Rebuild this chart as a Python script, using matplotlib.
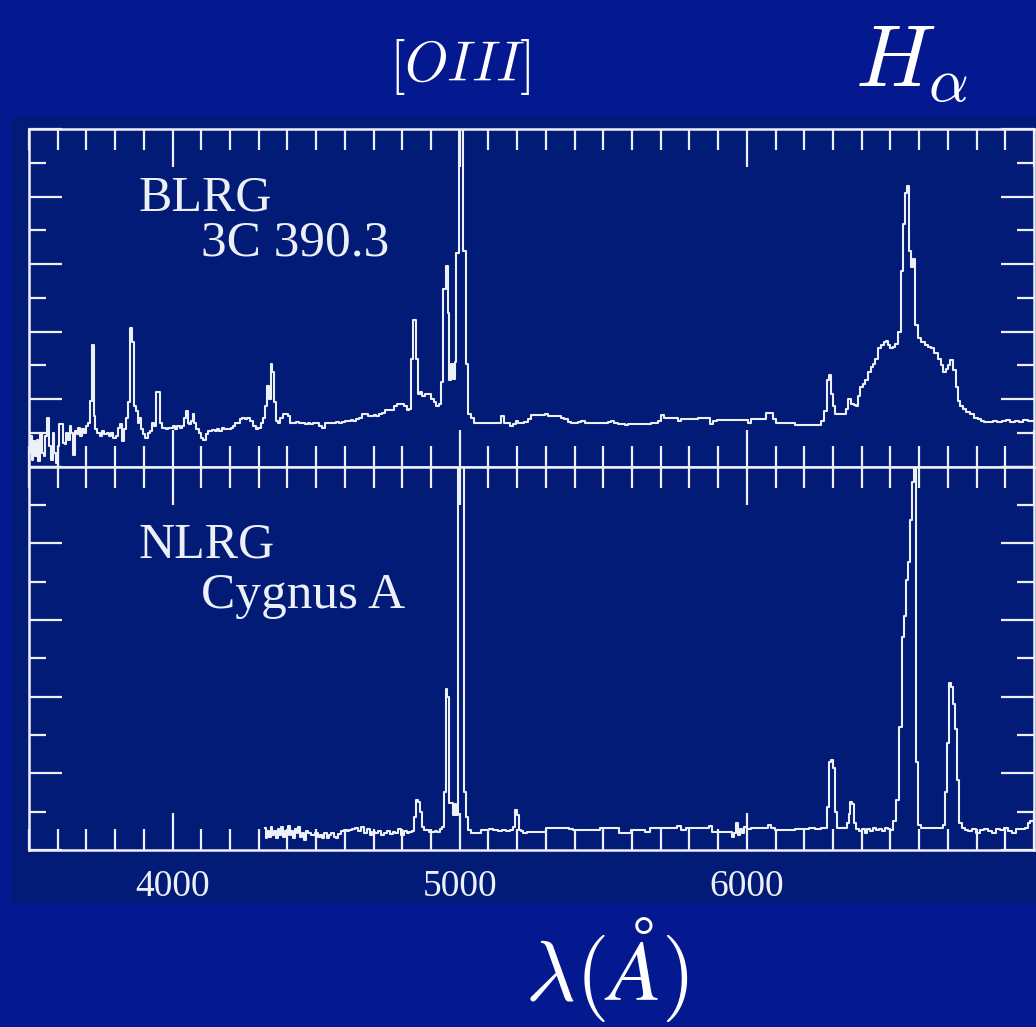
import matplotlib
matplotlib.use('Agg')
import matplotlib.pyplot as plt
from matplotlib.patches import Rectangle
from matplotlib.ticker import MultipleLocator, FixedLocator, FixedFormatter

plt.rcParams['mathtext.fontset'] = 'cm'

# ---------------- data (wavelength [A], relative flux) ----------------
blrg_points = [
    (3500,0.4),(3506,0.9),(3512,0.2),(3518,0.75),(3524,0.3),(3530,0.8),(3536,0.15),(3542,0.95),
    (3548,0.4),(3554,0.3),(3560,0.9),(3567,1.45),(3573,0.6),(3579,0.2),(3585,1.0),(3591,0.4),
    (3597,0.1),(3603,0.6),(3609,1.25),(3615,1.27),(3621,0.7),(3627,0.68),(3633,1.0),(3639,0.8),
    (3645,1.2),(3651,1.0),(3657,0.33),(3663,1.05),(3669,0.95),(3675,1.15),(3681,0.9),(3687,1.1),
    (3693,1.0),(3701,1.2),(3709,1.3),(3716,1.95),(3722,3.6),(3728,1.5),(3734,1.1),(3742,1.0),
    (3750,0.9),(3758,1.05),(3766,0.95),(3774,1.0),(3782,0.9),(3790,1.0),(3798,0.85),(3806,0.9),
    (3814,1.15),(3822,1.27),(3828,0.77),(3834,1.1),(3841,1.45),(3848,1.9),(3855,4.1),(3861,3.7),
    (3867,1.8),(3875,1.65),(3881,1.3),(3887,1.45),(3893,1.1),(3901,0.95),(3909,0.85),(3917,1.0),
    (3925,1.05),(3933,1.3),(3941,1.2),(3947,2.2),(3953,2.2),(3959,1.3),(3965,1.15),(3973,1.15),
    (3981,1.1),(3989,1.15),(3997,1.15),(4005,1.2),(4013,1.1),(4021,1.2),(4029,1.15),(4037,1.2),
    (4043,1.45),(4049,1.65),(4055,1.3),(4061,1.25),(4067,1.35),(4073,1.57),(4079,1.3),(4087,1.1),
    (4095,1.0),(4103,0.85),(4111,0.8),(4119,0.95),(4127,1.05),(4135,1.05),(4143,1.08),(4151,1.06),
    (4159,1.1),(4167,1.05),(4175,1.15),(4183,1.1),(4191,1.12),(4199,1.1),(4207,1.15),(4215,1.2),
    (4223,1.3),(4231,1.3),(4239,1.42),(4247,1.45),(4255,1.4),(4265,1.45),(4275,1.35),(4285,1.2),
    (4295,1.1),(4303,1.15),(4311,1.3),(4319,1.45),(4327,1.8),(4333,2.4),(4339,2.0),(4345,3.05),
    (4351,2.8),(4357,1.9),(4363,1.36),(4371,1.3),(4379,1.45),(4389,1.57),(4397,1.57),(4405,1.5),
    (4415,1.3),(4425,1.3),(4435,1.32),(4445,1.28),(4455,1.3),(4465,1.25),(4475,1.28),(4485,1.25),
    (4495,1.3),(4505,1.28),(4515,1.2),(4525,1.15),(4535,1.3),(4545,1.28),(4555,1.3),(4565,1.3),
    (4575,1.33),(4585,1.3),(4595,1.33),(4605,1.36),(4615,1.36),(4625,1.38),(4635,1.36),(4645,1.4),
    (4655,1.45),(4665,1.57),(4675,1.57),(4685,1.5),(4695,1.5),(4705,1.52),(4715,1.5),(4725,1.55),
    (4735,1.6),(4745,1.66),(4755,1.66),(4765,1.66),(4775,1.8),(4785,1.85),(4795,1.85),(4803,1.85),
    (4811,1.8),(4819,1.66),(4827,1.7),(4835,3.2),(4843,4.35),(4850,3.2),(4857,2.15),(4865,2.2),
    (4875,2.1),(4885,2.15),(4895,2.15),(4905,2.0),(4915,1.9),(4923,1.8),(4931,1.85),(4939,2.5),
    (4947,5.27),(4955,5.95),(4961,4.55),(4967,2.55),(4973,3.05),(4979,2.6),(4985,3.1),(4992,6.33),
    (5000,14.0),(5009,14.0),(5017,6.4),(5025,3.05),(5033,1.57),(5045,1.45),(5057,1.3),(5069,1.3),
    (5081,1.3),(5093,1.3),(5104,1.3),(5115,1.3),(5127,1.3),(5139,1.3),(5150,1.5),(5160,1.3),
    (5167,1.3),(5181,1.2),(5191,1.25),(5198,1.35),(5209,1.3),(5219,1.3),(5231,1.32),(5243,1.4),
    (5254,1.54),(5266,1.54),(5278,1.54),(5289,1.54),(5303,1.57),(5313,1.5),(5325,1.5),(5337,1.5),
    (5348,1.5),(5358,1.45),(5370,1.4),(5383,1.33),(5395,1.3),(5407,1.3),(5418,1.32),(5428,1.36),
    (5442,1.3),(5456,1.3),(5470,1.3),(5484,1.3),(5498,1.3),(5511,1.3),(5522,1.33),(5532,1.36),
    (5545,1.3),(5557,1.27),(5569,1.25),(5581,1.24),(5592,1.25),(5602,1.27),(5617,1.27),(5632,1.27),
    (5647,1.27),(5661,1.27),(5673,1.28),(5685,1.3),(5696,1.36),(5706,1.54),(5720,1.45),(5732,1.45),
    (5744,1.45),(5755,1.45),(5765,1.36),(5778,1.4),(5790,1.42),(5802,1.42),(5814,1.42),(5825,1.42),
    (5835,1.45),(5849,1.45),(5863,1.45),(5877,1.27),(5887,1.36),(5905,1.39),(5920,1.39),(5936,1.39),
    (5952,1.39),(5968,1.39),(5984,1.39),(5999,1.39),(6009,1.3),(6020,1.4),(6034,1.4),(6048,1.4),
    (6061,1.4),(6072,1.6),(6086,1.6),(6096,1.4),(6107,1.3),(6124,1.3),(6141,1.3),(6159,1.3),
    (6173,1.24),(6189,1.24),(6205,1.24),(6221,1.24),(6237,1.24),(6253,1.24),(6263,1.36),(6277,1.65),
    (6284,2.55),(6291,2.7),(6298,2.15),(6305,1.8),(6312,1.57),(6326,1.57),(6340,1.57),(6350,1.7),
    (6357,2.0),(6368,1.85),(6377,1.82),(6385,1.8),(6392,2.1),(6399,2.35),(6408,2.45),(6416,2.55),
    (6427,2.8),(6437,2.95),(6444,3.05),(6451,3.2),(6461,3.5),(6472,3.6),(6480,3.7),(6486,3.73),
    (6495,3.6),(6503,3.5),(6512,3.55),(6521,3.64),(6531,4.0),(6542,5.8),(6548,7.2),(6555,8.1),
    (6562,8.3),(6569,6.4),(6576,5.9),(6580,6.15),(6590,4.2),(6601,3.8),(6613,3.7),(6625,3.6),
    (6636,3.55),(6646,3.5),(6658,3.35),(6670,3.2),(6679,3.0),(6688,2.8),(6698,2.9),(6705,3.0),
    (6712,3.15),(6722,2.85),(6733,2.35),(6740,1.95),(6748,1.8),(6757,1.7),(6770,1.62),(6782,1.57),
    (6799,1.45),(6810,1.4),(6820,1.36),(6835,1.33),(6850,1.33),(6865,1.36),(6880,1.33),(6895,1.36),
    (6910,1.38),(6925,1.33),(6940,1.36),(6955,1.33),(6970,1.38),(6985,1.36),(7000,1.36),
]

nlrg_points = [
    (4321,0.57),(4327,0.3),(4333,0.5),(4339,0.35),(4345,0.6),(4351,0.4),(4357,0.5),(4363,0.3),
    (4369,0.55),(4375,0.4),(4381,0.6),(4387,0.35),(4393,0.5),(4399,0.4),(4405,0.62),(4411,0.38),
    (4417,0.5),(4423,0.3),(4429,0.55),(4435,0.45),(4441,0.6),(4447,0.35),(4453,0.45),(4461,0.25),
    (4469,0.5),(4477,0.45),(4485,0.4),(4493,0.38),(4501,0.45),(4509,0.35),(4517,0.4),(4525,0.3),
    (4533,0.45),(4541,0.3),(4549,0.4),(4557,0.45),(4565,0.35),(4573,0.3),(4581,0.42),(4591,0.5),
    (4601,0.52),(4611,0.5),(4621,0.52),(4631,0.55),(4641,0.58),(4651,0.5),(4661,0.6),(4671,0.45),
    (4681,0.55),(4691,0.4),(4701,0.48),(4711,0.44),(4721,0.5),(4731,0.38),(4741,0.45),(4751,0.5),
    (4761,0.42),(4771,0.48),(4781,0.44),(4791,0.55),(4801,0.4),(4811,0.5),(4821,0.44),(4829,0.48),
    (4836,0.5),(4843,0.86),(4850,1.3),(4857,1.25),(4863,1.0),(4871,0.6),(4880,0.52),(4889,0.52),
    (4898,0.48),(4908,0.48),(4918,0.5),(4927,0.48),(4935,0.55),(4941,0.6),(4948,1.5),(4954,4.2),
    (4960,4.0),(4966,1.22),(4972,1.22),(4979,0.9),(4985,1.2),(4992,0.9),(4999,14.0),(5006,14.0),
    (5013,14.0),(5020,1.5),(5027,0.86),(5034,0.52),(5042,0.44),(5055,0.44),(5069,0.44),(5080,0.52),
    (5095,0.52),(5110,0.55),(5125,0.52),(5140,0.5),(5155,0.52),(5170,0.5),(5181,0.52),(5188,0.6),
    (5195,1.05),(5202,0.9),(5209,0.52),(5217,0.5),(5226,0.44),(5240,0.46),(5254,0.48),(5268,0.48),
    (5282,0.48),(5296,0.48),(5306,0.57),(5320,0.57),(5334,0.57),(5348,0.57),(5362,0.57),(5376,0.57),
    (5388,0.55),(5400,0.52),(5420,0.52),(5440,0.52),(5460,0.52),(5480,0.52),(5494,0.57),(5511,0.57),
    (5528,0.57),(5546,0.57),(5560,0.44),(5574,0.44),(5588,0.44),(5602,0.52),(5621,0.52),(5640,0.52),
    (5654,0.48),(5668,0.57),(5688,0.57),(5708,0.57),(5728,0.57),(5748,0.57),(5762,0.63),(5779,0.52),
    (5800,0.57),(5822,0.57),(5844,0.57),(5866,0.57),(5873,0.63),(5887,0.48),(5907,0.48),(5927,0.48),
    (5946,0.48),(5953,0.35),(5960,0.45),(5967,0.7),(5974,0.4),(5981,0.55),(5988,0.45),(5995,0.6),
    (6005,0.55),(6026,0.57),(6047,0.57),(6068,0.57),(6079,0.65),(6090,0.57),(6107,0.52),(6124,0.52),
    (6141,0.52),(6159,0.52),(6173,0.54),(6187,0.55),(6207,0.55),(6228,0.57),(6247,0.55),(6267,0.57),
    (6277,0.57),(6284,1.12),(6291,2.3),(6298,2.35),(6305,2.13),(6312,1.0),(6319,0.57),(6333,0.57),
    (6347,0.57),(6352,0.7),(6357,0.94),(6364,1.25),(6371,1.2),(6378,0.7),(6385,0.55),(6395,0.5),
    (6405,0.55),(6415,0.45),(6425,0.55),(6435,0.5),(6445,0.58),(6455,0.52),(6465,0.55),(6475,0.5),
    (6485,0.57),(6495,0.55),(6505,0.52),(6514,0.75),(6524,1.3),(6538,3.2),(6545,5.55),(6552,6.1),
    (6559,7.05),(6566,7.5),(6573,8.6),(6580,9.6),(6587,14.0),(6594,2.3),(6601,0.65),(6612,0.57),
    (6626,0.57),(6640,0.57),(6654,0.57),(6668,0.57),(6681,0.57),(6688,0.65),(6695,1.5),(6702,2.8),
    (6709,4.36),(6716,4.25),(6723,3.8),(6730,3.15),(6737,1.83),(6744,0.7),(6752,0.57),(6764,0.52),
    (6778,0.5),(6792,0.55),(6806,0.45),(6820,0.52),(6834,0.55),(6848,0.5),(6862,0.45),(6876,0.55),
    (6890,0.52),(6904,0.57),(6918,0.5),(6932,0.45),(6946,0.55),(6960,0.55),(6974,0.57),(6983,0.7),
    (6992,0.75),(7000,0.75),
]

x_major_ticks = [4000, 5000, 6000, 7000]
x_tick_labels = ['4000', '5000', '6000', '']
panel_labels = [('BLRG', '3C 390.3'), ('NLRG', 'Cygnus A')]

# ---------------- style ----------------
OUTER = '#04198f'
INNER = '#011b76'
LINE = '#eef0f8'
SERIF = 'Liberation Serif'

W, H = 1036, 1027
fig = plt.figure(figsize=(W / 100, H / 100), dpi=100)
fig.patch.set_facecolor(OUTER)
bg = Rectangle((12 / W, 1 - 903 / H), 1 - 12 / W, (903 - 117) / H,
               transform=fig.transFigure, facecolor=INNER, edgecolor='none', zorder=-10)
fig.patches.append(bg)

ax1 = fig.add_axes([29 / W, 1 - 466.5 / H, 1005 / W, 337.5 / H], zorder=2)
ax2 = fig.add_axes([29 / W, 1 - 850 / H, 1005 / W, 383.5 / H], zorder=2)

for ax, pts in ((ax1, blrg_points), (ax2, nlrg_points)):
    wl = [p[0] for p in pts]
    fl = [p[1] for p in pts]
    ax.set_facecolor(INNER)
    ax.plot(wl, fl, drawstyle='steps-mid', color=LINE, lw=1.5)
    ax.set_xlim(3500, 7000)
    ax.set_ylim(0, 10)
    for s in ax.spines.values():
        s.set_color(LINE)
        s.set_linewidth(1.8)
    ax.xaxis.set_major_locator(FixedLocator(x_major_ticks))
    ax.xaxis.set_minor_locator(MultipleLocator(100))
    ax.yaxis.set_major_locator(MultipleLocator(2))
    ax.yaxis.set_minor_locator(MultipleLocator(1))
    ax.tick_params(which='both', direction='in', top=True, right=True,
                   color=LINE, width=1.6, labelleft=False)
    ax.tick_params(axis='x', which='major', length=27)
    ax.tick_params(axis='x', which='minor', length=15)
    ax.tick_params(axis='y', which='major', length=24)
    ax.tick_params(axis='y', which='minor', length=12)

ax1.tick_params(labelbottom=False)
ax2.xaxis.set_major_formatter(FixedFormatter(x_tick_labels))
ax2.tick_params(axis='x', which='major', pad=14, labelsize=27, labelcolor=LINE)
for lab in ax2.get_xticklabels():
    lab.set_fontfamily(SERIF)

for ax, (l1, l2) in zip((ax1, ax2), panel_labels):
    ax.text(3880, 7.95, l1, fontsize=36, family=SERIF, color=LINE, ha='left', va='center')
    ax.text(4100, 6.62, l2, fontsize=37, family=SERIF, color=LINE, ha='left', va='center')

fig.text(460 / W, 1 - 67 / H, r'$[OIII]$', fontsize=40, color='white', ha='center', va='center')
fig.text(912 / W, 1 - 62 / H, r'$H_\alpha$', fontsize=64, color='white', ha='center', va='center')
fig.text(607 / W, 1 - 1000 / H, r'$\lambda(\AA)$', fontsize=62, color='white', ha='center', va='baseline')

fig.savefig('out.png', dpi=100, facecolor=OUTER)
